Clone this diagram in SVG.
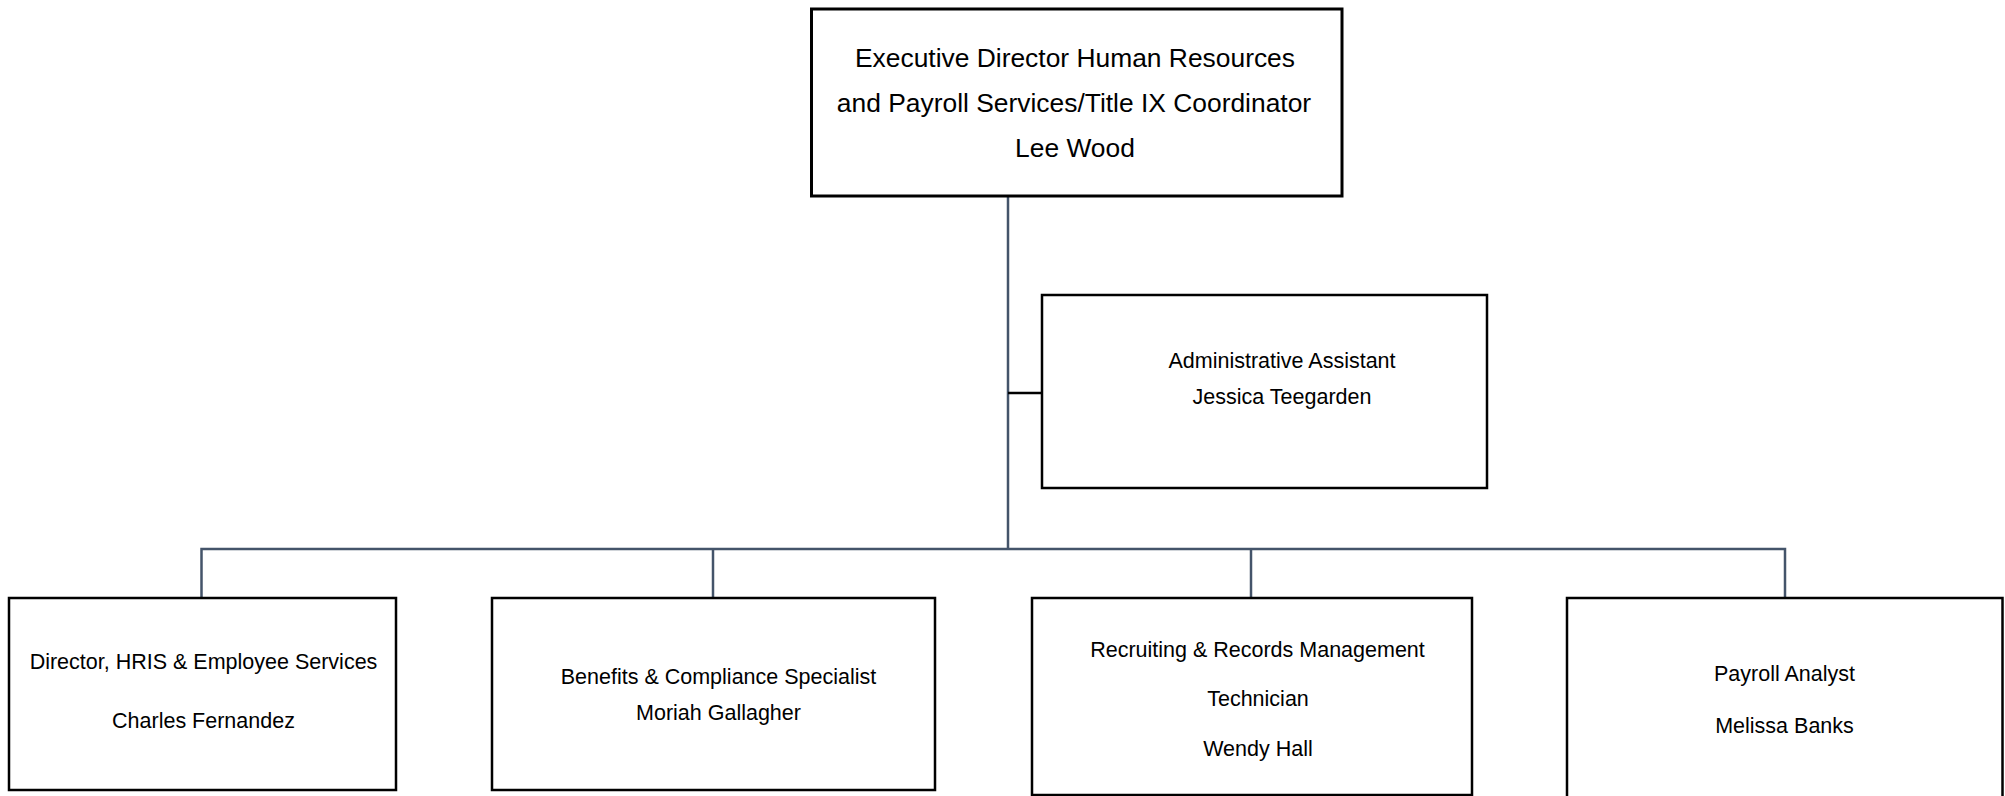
<svg xmlns="http://www.w3.org/2000/svg" width="2005" height="796" viewBox="0 0 2005 796">
<style>
.box{fill:#ffffff;stroke:#000000;stroke-width:2.5}
.top{stroke-width:3}
.t{font-family:"Liberation Sans",Arial,sans-serif;font-size:21.5px;fill:#000000;text-anchor:middle}
.tt{font-size:26.4px}
.c{fill:none;stroke:#44546a;stroke-width:2.5}
.stub{fill:none;stroke:#000000;stroke-width:2.5}
</style>
<rect width="2005" height="796" fill="#ffffff"/>
<g id="connectors">
<path class="c" d="M1008 196 V549"/>
<path class="c" d="M201.5 598 V549 H1785 V598"/>
<path class="c" d="M713 549 V598"/>
<path class="c" d="M1251 549 V598"/>
<path class="stub" d="M1008 393 H1042"/>
</g>
<g id="node-exec">
<rect class="box top" x="811.5" y="9" width="530.5" height="187"/>
<text class="t tt" x="1075" y="67">Executive Director Human Resources</text>
<text class="t tt" x="1074" y="112">and Payroll Services/Title IX Coordinator</text>
<text class="t tt" x="1075" y="157">Lee Wood</text>
</g>
<g id="node-admin">
<rect class="box" x="1042" y="295" width="445" height="193"/>
<text class="t" x="1282" y="368">Administrative Assistant</text>
<text class="t" x="1282" y="404">Jessica Teegarden</text>
</g>
<g id="node-hris">
<rect class="box" x="9" y="598" width="387" height="192"/>
<text class="t" x="203.5" y="668.5">Director, HRIS &amp; Employee Services</text>
<text class="t" x="203.5" y="728">Charles Fernandez</text>
</g>
<g id="node-benefits">
<rect class="box" x="492" y="598" width="443" height="192"/>
<text class="t" x="718.5" y="684">Benefits &amp; Compliance Specialist</text>
<text class="t" x="718.5" y="720">Moriah Gallagher</text>
</g>
<g id="node-recruiting">
<rect class="box" x="1032" y="598" width="440" height="197"/>
<text class="t" x="1257.5" y="656.5">Recruiting &amp; Records Management</text>
<text class="t" x="1258" y="705.5">Technician</text>
<text class="t" x="1258" y="755.5">Wendy Hall</text>
</g>
<g id="node-payroll">
<rect class="box" x="1567" y="598" width="435.5" height="204"/>
<text class="t" x="1784.5" y="680.5">Payroll Analyst</text>
<text class="t" x="1784.5" y="733">Melissa Banks</text>
</g>
</svg>
